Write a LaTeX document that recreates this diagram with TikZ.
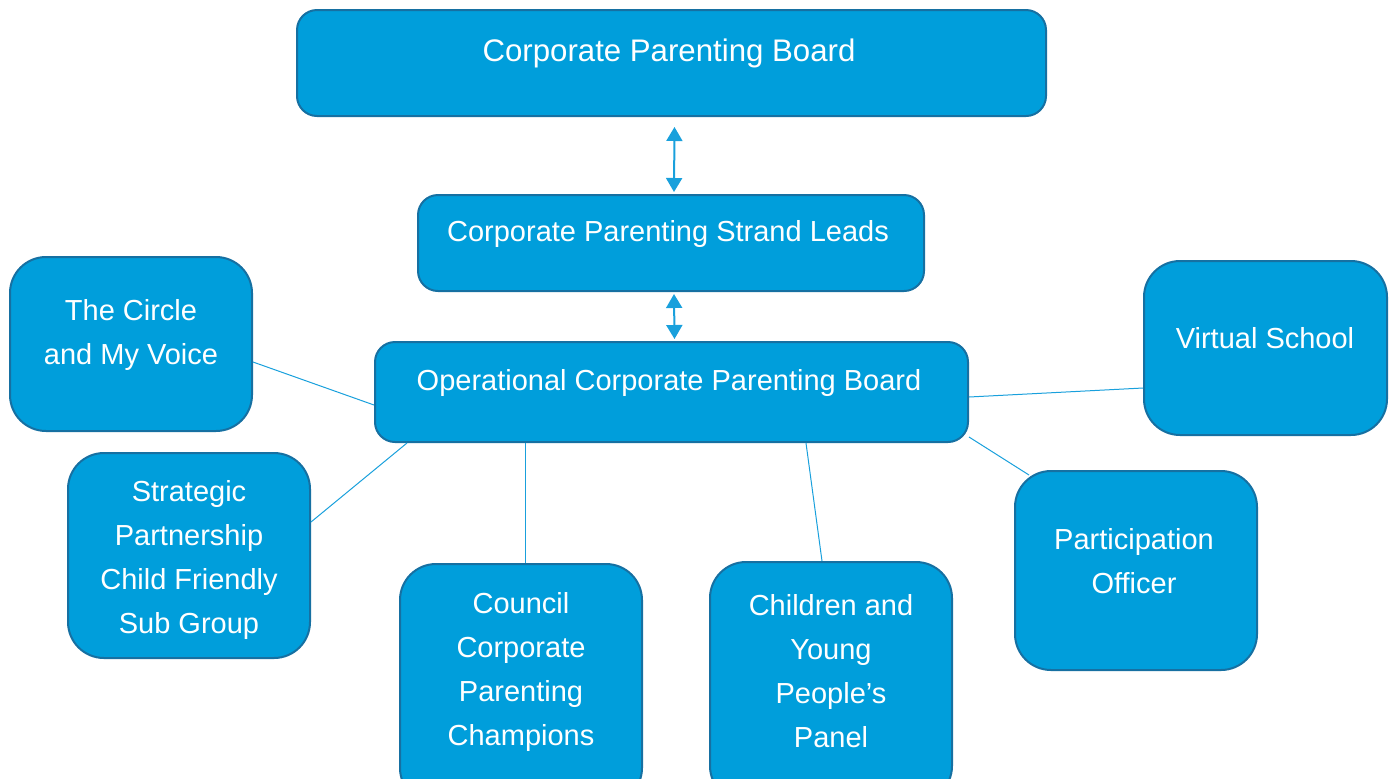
\documentclass[tikz,border=0pt]{standalone}
\usepackage{fontspec}
\setmainfont{Liberation Sans}
\usetikzlibrary{arrows.meta}
\definecolor{boxblue}{RGB}{0,158,219}
\definecolor{boxedge}{RGB}{22,112,162}
\definecolor{linkblue}{RGB}{25,160,220}
\tikzset{
  box/.style={draw=boxedge, fill=boxblue, line width=1pt, rounded corners=#1, inner sep=0pt},
  box/.default=18pt,
  txt/.style={text=white, font=\fontsize{14.5}{22}\selectfont, align=center, inner sep=0pt},
  link/.style={draw=linkblue, line width=0.5pt},
  biarrow/.style={draw=linkblue, line width=1pt, {Triangle[width=8pt,length=7pt]}-{Triangle[width=8pt,length=7pt]}}
}
\begin{document}
\begin{tikzpicture}[x=0.5pt,y=-0.5pt]
            \clip (0,0) rectangle (1393,778);

            % boxes
            \node[box=10pt, minimum width=374.5pt, minimum height=53pt] (board) at (671.5,63) {};
            \node[box=10pt, minimum width=253pt, minimum height=48pt] (leads) at (671,243) {};
            \node[box=10pt, minimum width=296.5pt, minimum height=50pt] (ocpb) at (671.5,392) {};
            \node[box, minimum width=121pt, minimum height=87pt] (circle) at (131,344) {};
            \node[box, minimum width=121pt, minimum height=102.5pt] (strategic) at (189,555.5) {};
            \node[box, minimum width=121pt, minimum height=120pt] (council) at (521,684) {};
            \node[box, minimum width=121pt, minimum height=120pt] (children) at (831,682) {};
            \node[box, minimum width=121pt, minimum height=99.5pt] (participation) at (1136,570.5) {};
            \node[box, minimum width=121.5pt, minimum height=87pt] (virtual) at (1265.5,348) {};

            % texts
            \node[txt, font=\fontsize{15.6}{22}\selectfont] (board-txt) at (669,53) {Corporate Parenting Board};
            \node[txt] (leads-txt) at (668,234) {Corporate Parenting Strand Leads};
            \node[txt] (ocpb-txt) at (669,383) {Operational Corporate Parenting Board};
            \node[txt] (circle-txt) at (131,334.5) {The Circle\\and My Voice};
            \node[txt] (strategic-txt) at (189,560) {Strategic\\Partnership\\Child Friendly\\Sub Group};
            \node[txt] (council-txt) at (521,672) {Council\\Corporate\\Parenting\\Champions};
            \node[txt] (children-txt) at (831,671) {Children and\\Young\\People’s\\Panel};
            \node[txt] (participation-txt) at (1134,561) {Participation\\Officer};
            \node[txt] (virtual-txt) at (1265,338) {Virtual School};

            % arrows
            \draw[biarrow] ([shift={(3,10)}]board.south) -- ([shift={(3,-2)}]leads.north);
            \draw[biarrow] ([shift={(3,2)}]leads.south) -- ([shift={(3,-2)}]ocpb.north);

            % links
            \draw[link] ([shift={(0,18)}]circle.east) -- ([shift={(0,13)}]ocpb.west);
            \draw[link] ([shift={(0,-33.5)}]strategic.east) -- ([shift={(33,0)}]ocpb.south west);
            \draw[link] ([shift={(4,0)}]council.north) -- ([shift={(-146.5,0)}]ocpb.south);
            \draw[link] ([shift={(-9,0)}]children.north) -- ([shift={(134.5,0)}]ocpb.south);
            \draw[link] ([shift={(15,5)}]participation.north west) -- ([shift={(0,-6)}]ocpb.south east);
            \draw[link] ([shift={(0,40)}]virtual.west) -- ([shift={(0,5)}]ocpb.east);

\end{tikzpicture}
\end{document}
